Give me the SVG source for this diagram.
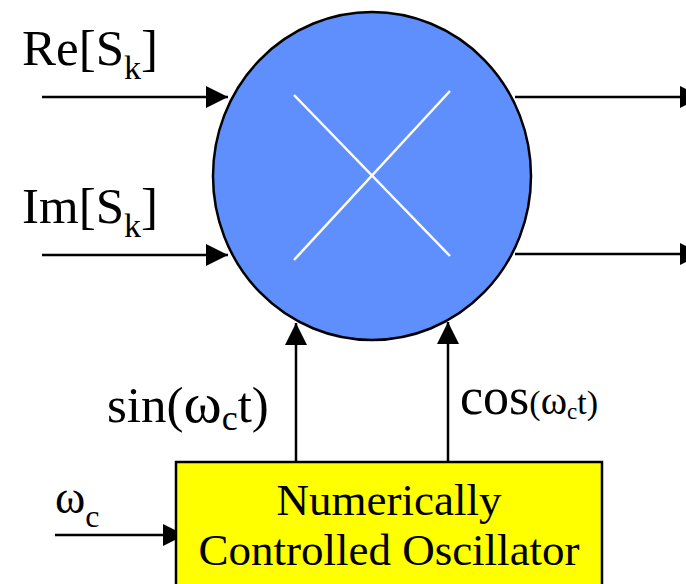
<svg xmlns="http://www.w3.org/2000/svg" width="686" height="584" viewBox="0 0 686 584">
<style>
  text { font-family: "Liberation Serif", "Times New Roman", serif; fill: #000; }
  .conn { stroke: #000; stroke-width: 2.5; fill: none; }
  .xline { stroke: #fff; stroke-width: 2.5; }
</style>
<defs>
  <marker id="arr" markerUnits="userSpaceOnUse" markerWidth="22" markerHeight="22" refX="22" refY="11" orient="auto">
    <path d="M0,0 L22,11 L0,22 z" fill="#000"/>
  </marker>
</defs>
<rect width="686" height="584" fill="#fff"/>

<g id="connectors">
  <line class="conn" x1="42" y1="97" x2="228" y2="97" marker-end="url(#arr)"/>
  <line class="conn" x1="42" y1="255" x2="228" y2="255" marker-end="url(#arr)"/>
  <line class="conn" x1="515" y1="97" x2="702" y2="97" marker-end="url(#arr)"/>
  <line class="conn" x1="515" y1="254" x2="702" y2="254" marker-end="url(#arr)"/>
  <line class="conn" x1="296" y1="462" x2="296" y2="323" marker-end="url(#arr)"/>
  <line class="conn" x1="448" y1="462" x2="448" y2="322" marker-end="url(#arr)"/>
  <line class="conn" x1="55" y1="535" x2="185" y2="535" marker-end="url(#arr)"/>
</g>

<g id="mixer">
  <ellipse cx="372" cy="176" rx="159" ry="164" fill="#5f8ffc" stroke="#000" stroke-width="2.5"/>
  <line class="xline" x1="294" y1="95" x2="450" y2="256"/>
  <line class="xline" x1="294" y1="260" x2="450" y2="91"/>
</g>

<g id="nco">
  <rect x="176" y="462" width="426" height="140" fill="#ffff00" stroke="#000" stroke-width="2.5"/>
  <text x="389" y="515" font-size="45" text-anchor="middle">Numerically</text>
  <text x="389" y="565" font-size="45" text-anchor="middle">Controlled Oscillator</text>
</g>

<g id="labels">
  <text x="22" y="65" font-size="51">Re[S<tspan font-size="34" dy="14">k</tspan><tspan dy="-14">]</tspan></text>
  <text x="22" y="223" font-size="51">Im[S<tspan font-size="34" dy="14">k</tspan><tspan dy="-14">]</tspan></text>
  <text x="107" y="422" font-size="51">sin(<tspan font-size="58">ω</tspan><tspan font-size="36" dy="8">c</tspan><tspan dy="-8">t)</tspan></text>
  <text x="460" y="414" font-size="52">cos<tspan font-size="34">(</tspan><tspan font-size="40">ω</tspan><tspan font-size="23" dy="5">c</tspan><tspan font-size="34" dy="-5">t)</tspan></text>
  <text x="55" y="513" font-size="46">ω<tspan font-size="32" dy="14">c</tspan></text>
</g>
</svg>
